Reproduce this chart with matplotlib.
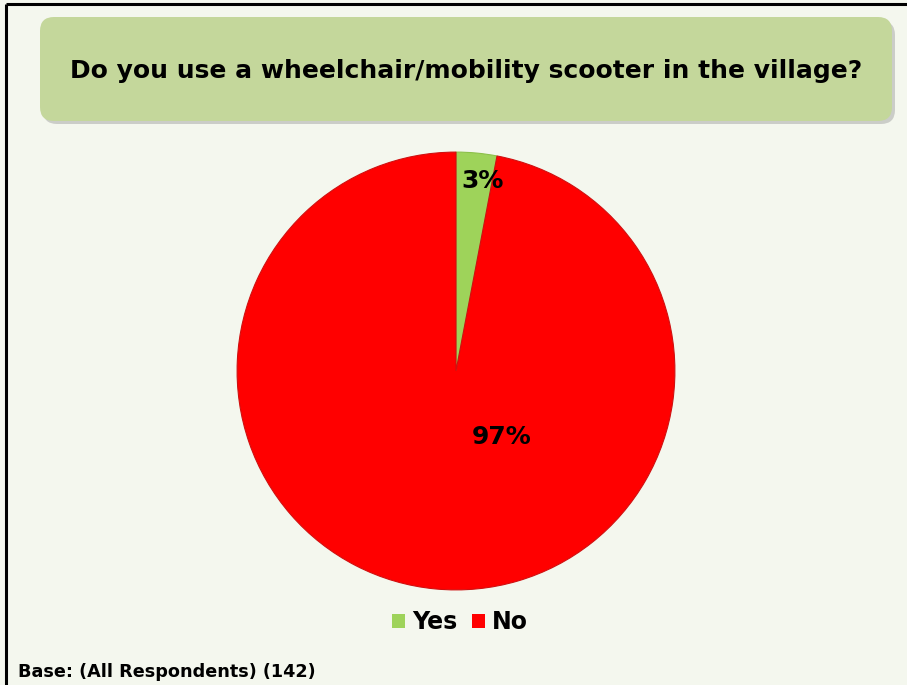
import matplotlib
matplotlib.use("Agg")
import matplotlib.pyplot as plt
from matplotlib.patches import FancyBboxPatch, Patch

# Данные
categories = ["Yes", "No"]
shares = [3, 97]
colors = ["#9ed35a", "#ff0000"]
title = "Do you use a wheelchair/mobility scooter in the village?"
base_note = "Base: (All Respondents) (142)"

W, H = 907, 685
bg = "#f4f7ee"

fig = plt.figure(figsize=(W / 100, H / 100), dpi=100, facecolor=bg)

# Фон в пикселях
ax_bg = fig.add_axes([0, 0, 1, 1])
ax_bg.set_xlim(0, W)
ax_bg.set_ylim(H, 0)
ax_bg.axis("off")

ax_bg.plot([6, W], [4, 4], color="black", lw=2.2, solid_capstyle="butt")
ax_bg.plot([6, 6], [4, H], color="black", lw=2.2, solid_capstyle="butt")

# Плашка заголовка с тенью
shadow = FancyBboxPatch((43, 21), 852, 103, boxstyle="round,pad=0,rounding_size=14",
                        facecolor="#9a9a9a", edgecolor="none", alpha=0.45)
ax_bg.add_patch(shadow)
box = FancyBboxPatch((40, 17), 852, 104, boxstyle="round,pad=0,rounding_size=14",
                     facecolor="#c4d79b", edgecolor="none")
ax_bg.add_patch(box)
ax_bg.text(466, 71, title, ha="center", va="center", fontsize=18, fontweight="bold")

ax_bg.text(18, 672, base_note, ha="left", va="center", fontsize=12.7, fontweight="bold")

# Круговая диаграмма
cx, cy, r = 456, 371, 220
ax = fig.add_axes([(cx - r) / W, (H - cy - r) / H, 2 * r / W, 2 * r / H])
wedges, _ = ax.pie(shares, colors=colors, startangle=90, counterclock=False,
                   wedgeprops=dict(edgecolor="#d01010", linewidth=0.8))
wedges[0].set_edgecolor("#8cc04a")
ax.set_xlim(-1.005, 1.005)
ax.set_ylim(-1.005, 1.005)
ax.set_aspect("equal")
ax.axis("off")

ax.text(0.12, 0.87, f"{shares[0]}%", ha="center", va="center", fontsize=18, fontweight="bold")
ax.text(0.21, -0.30, f"{shares[1]}%", ha="center", va="center", fontsize=18, fontweight="bold")

handles = [Patch(facecolor=c, edgecolor="none") for c in colors]
fig.legend(handles, categories, loc="center", bbox_to_anchor=(460 / W, 1 - 622 / H),
           ncol=2, frameon=False, prop=dict(size=17, weight="bold"),
           handlelength=0.55, handleheight=0.55, handletextpad=0.3, columnspacing=0.6)

fig.savefig("out.png", dpi=100, facecolor=bg)
